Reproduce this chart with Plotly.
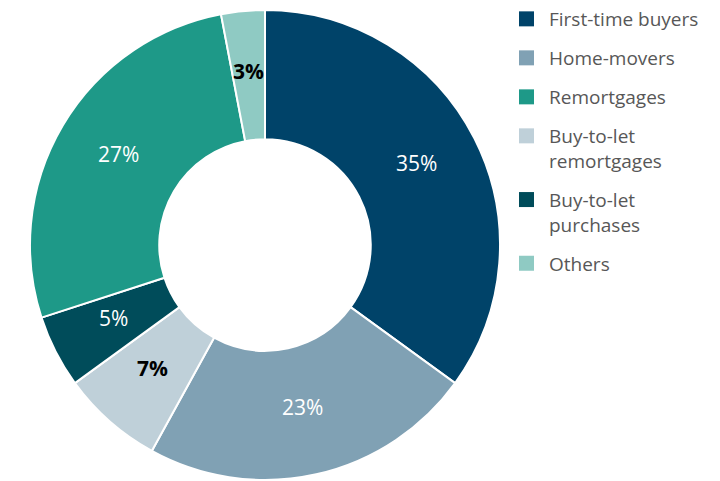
import math
import plotly.graph_objects as go

# Slices in clockwise drawing order (from 12 o'clock)
slice_labels = ["First-time buyers", "Home-movers", "Buy-to-let remortgages",
                "Buy-to-let purchases", "Remortgages", "Others"]
slice_values = [35, 23, 7, 5, 27, 3]
slice_colors = ["#004369", "#80A1B4", "#BFD0D9", "#004C5A", "#1E9988", "#8FCAC3"]
label_colors = ["white", "white", "black", "white", "white", "black"]
label_bold = [False, False, True, False, False, True]

# Legend order
legend_labels = ["First-time buyers", "Home-movers", "Remortgages",
                 "Buy-to-let<br>remortgages", "Buy-to-let<br>purchases", "Others"]
legend_colors = ["#004369", "#80A1B4", "#1E9988", "#BFD0D9", "#004C5A", "#8FCAC3"]

FONT = "Open Sans"
W, H = 720, 481
HOLE = 0.45
PIE_X = [30 / W, 500 / W]
PIE_Y = [1 / H, 471 / H]

fig = go.Figure()
fig.add_trace(go.Pie(
    labels=slice_labels,
    values=slice_values,
    sort=False,
    direction="clockwise",
    rotation=0,
    hole=HOLE,
    marker=dict(colors=slice_colors, line=dict(color="white", width=2)),
    textinfo="none",
    showlegend=False,
    hoverinfo="label+value",
    domain=dict(x=PIE_X, y=PIE_Y),
))

# Percentage labels at the middle of each ring segment (unit-circle axis coords)
total = sum(slice_values)
rmid = (1 + HOLE) / 2
annotations = []
cum = 0
for v, b, c in zip(slice_values, label_bold, label_colors):
    theta = 2 * math.pi * (cum + v / 2) / total
    t = f"{v}%"
    annotations.append(dict(
        x=rmid * math.sin(theta), y=rmid * math.cos(theta),
        xref="x", yref="y", showarrow=False, yshift=4.5,
        text=f"<b>{t}</b>" if b else t,
        font=dict(family=FONT, size=21, color=c),
    ))
    cum += v

for i, (lab, col) in enumerate(zip(legend_labels, legend_colors)):
    fig.add_trace(go.Scatter(
        x=[None], y=[None], mode="markers", name=lab,
        legendgroup=f"g{i}", hoverinfo="skip",
        marker=dict(symbol="square", size=15, color=col, line=dict(width=0)),
    ))

fig.update_layout(
    width=W, height=H,
    margin=dict(l=0, r=0, t=0, b=0),
    paper_bgcolor="white", plot_bgcolor="rgba(0,0,0,0)",
    font=dict(family=FONT, size=19, color="#575757"),
    xaxis=dict(visible=False, range=[-1, 1], domain=PIE_X, fixedrange=True),
    yaxis=dict(visible=False, range=[-1, 1], domain=PIE_Y, fixedrange=True),
    annotations=annotations,
    legend=dict(
        x=504 / W, xanchor="left", y=1.0, yanchor="top",
        traceorder="grouped", tracegroupgap=11.3, itemwidth=35,
        valign="top", font=dict(family=FONT, size=19, color="#575757"),
        bgcolor="rgba(0,0,0,0)",
    ),
)

fig.write_html("out.html", config={"displayModeBar": False},
               post_script="document.body.style.margin='0';")
